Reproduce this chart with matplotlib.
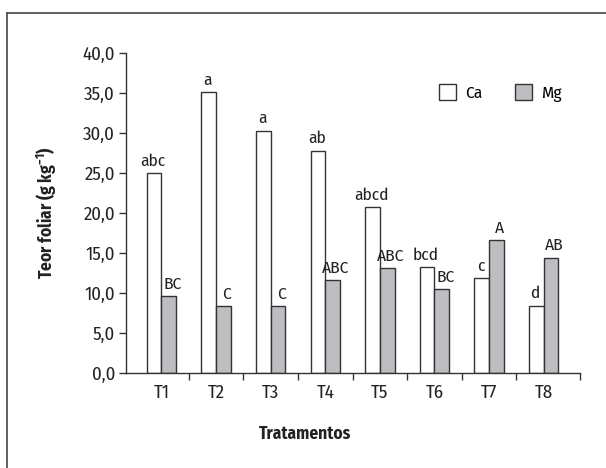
import numpy as np
import matplotlib.pyplot as plt
from matplotlib.lines import Line2D
from matplotlib.ticker import FuncFormatter

plt.rcParams['font.family'] = ['Fira Sans Condensed', 'DejaVu Sans']
plt.rcParams['mathtext.fontset'] = 'custom'
plt.rcParams['mathtext.rm'] = 'Fira Sans Condensed'
plt.rcParams['mathtext.bf'] = 'Fira Sans Condensed:bold'
plt.rcParams['axes.unicode_minus'] = True

# Teor foliar de Ca e Mg por tratamento (g kg-1)
tratamentos = ['T1', 'T2', 'T3', 'T4', 'T5', 'T6', 'T7', 'T8']
ca = [25.0, 35.1, 30.3, 27.8, 20.7, 13.2, 11.8, 8.4]
mg = [9.6, 8.3, 8.3, 11.6, 13.1, 10.5, 16.6, 14.4]
letras_ca = ['abc', 'a', 'a', 'ab', 'abcd', 'bcd', 'c', 'd']
letras_mg = ['BC', 'C', 'C', 'ABC', 'ABC', 'BC', 'A', 'AB']

edge = '#333333'
cinza = '#bdbec2'
txt = '#222222'
fs = 12.5

fig = plt.figure(figsize=(6.06, 4.68), dpi=100)
ax = fig.add_axes([126 / 606, 1 - 372.7 / 468, 454 / 606, 319.4 / 468])

x = np.arange(len(tratamentos))
w = 0.27
ax.bar(x - w / 2, ca, w, color='white', edgecolor=edge, linewidth=1.0, label='Ca')
ax.bar(x + w / 2, mg, w, color=cinza, edgecolor=edge, linewidth=1.0, label='Mg')

# letras de significancia, levemente afastadas entre si
for xi, v, t in zip(x, ca, letras_ca):
    ax.text(xi - w / 2 - 0.02, v + 0.5, t, ha='center', va='bottom', fontsize=fs,
            color=txt, clip_on=False)
for xi, v, t in zip(x, mg, letras_mg):
    ax.text(xi + w / 2 + 0.06, v + 0.5, t, ha='center', va='bottom', fontsize=fs,
            color=txt, clip_on=False)

ax.set_xlim(-0.65, 7.665)
ax.set_ylim(0, 40)
ax.set_yticks(np.arange(0, 41, 5))
ax.yaxis.set_major_formatter(FuncFormatter(lambda v, p: f'{v:.1f}'.replace('.', ',')))
ax.set_xticks(x)
ax.set_xticklabels(tratamentos)
ax.set_xticks(list(np.arange(0.5, 7, 1)) + [7.665], minor=True)
ax.tick_params(axis='x', which='major', length=0, pad=8, labelsize=13.5, colors=txt)
ax.tick_params(axis='x', which='minor', length=5, width=1, color=edge)
ax.tick_params(axis='y', length=5, width=1, color=edge, labelsize=13.5, labelcolor=txt, pad=3)

for s in ['top', 'right']:
    ax.spines[s].set_visible(False)
for s in ['left', 'bottom']:
    ax.spines[s].set_color(edge)
    ax.spines[s].set_linewidth(1.0)

ax.set_ylabel(r'Teor foliar (g kg$^{\mathbf{-1}}$)', fontsize=12.5, fontweight='bold',
              labelpad=17, color=txt)
ax.set_xlabel('Tratamentos', fontsize=12.5, fontweight='bold', labelpad=17, color=txt)
ax.xaxis.label.set_x((305 - 126) / 454)

ax.legend(loc='center', bbox_to_anchor=(500 / 606, 1 - 93 / 468),
          bbox_transform=fig.transFigure, ncol=2, frameon=False,
          handlelength=1.0, handleheight=1.0, handletextpad=0.5,
          columnspacing=1.9, fontsize=fs)

# moldura externa
fig.add_artist(Line2D([7 / 606, 1], [1 - 13 / 468] * 2, transform=fig.transFigure,
                      color='#555555', linewidth=1.3))
fig.add_artist(Line2D([7 / 606] * 2, [0, 1 - 13 / 468], transform=fig.transFigure,
                      color='#555555', linewidth=1.3))

fig.savefig('out.png', dpi=100)
